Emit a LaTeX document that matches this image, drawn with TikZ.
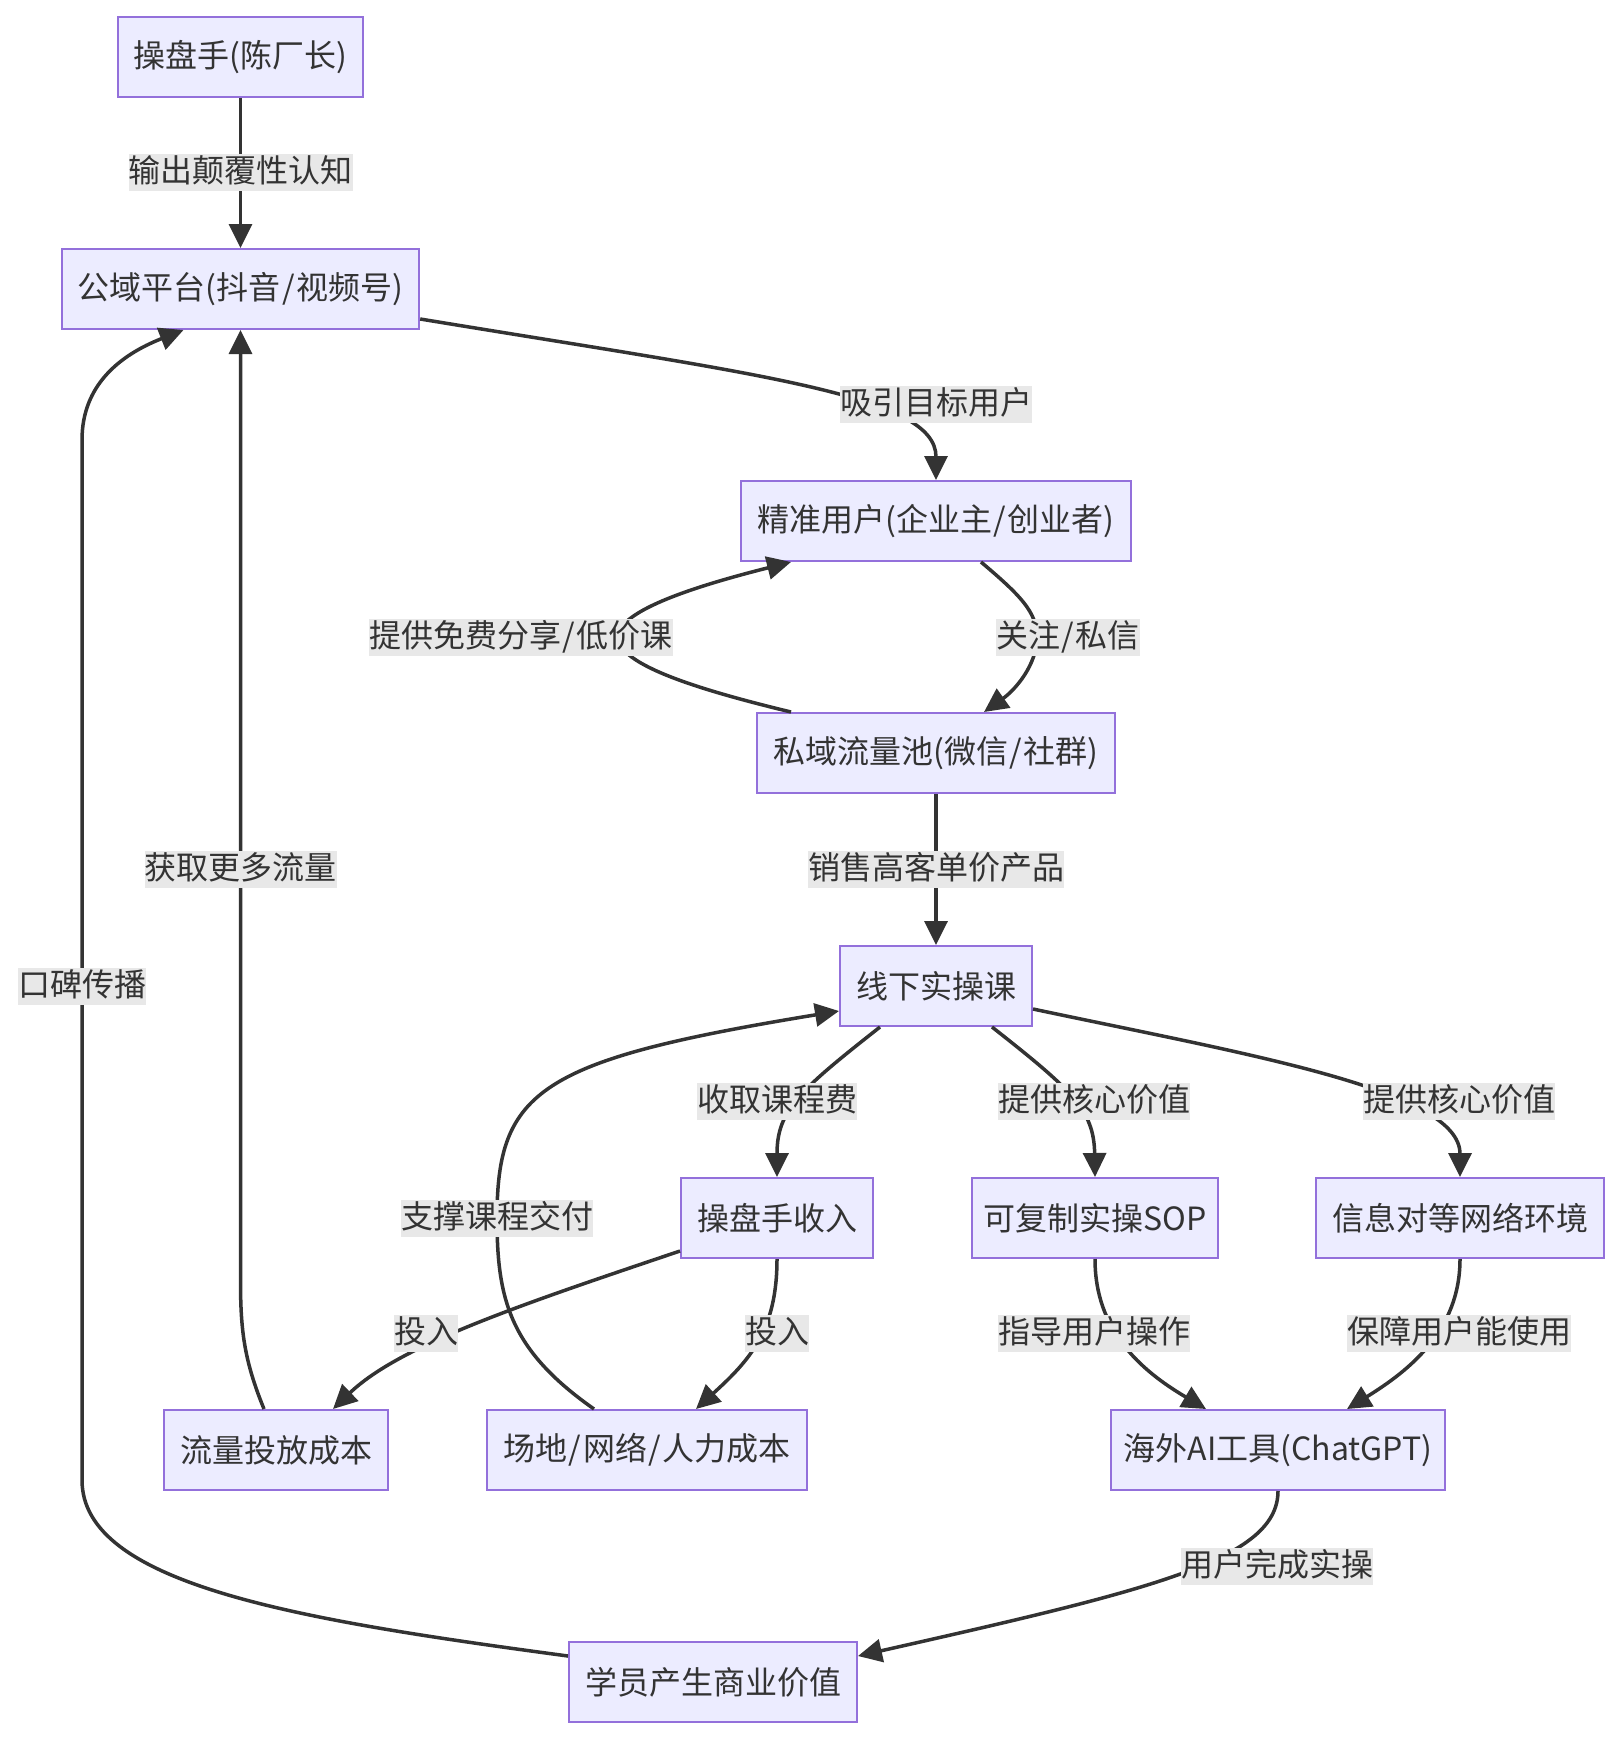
\documentclass[tikz,border=0pt]{standalone}
\usepackage{fontspec}
\setmainfont{Noto Sans CJK SC}
\usetikzlibrary{arrows.meta,calc}
\definecolor{nodefill}{HTML}{ECECFF}
\definecolor{nodeborder}{HTML}{9370DB}
\definecolor{edgecol}{HTML}{333333}
\definecolor{lblbg}{HTML}{E8E8E8}
\newcommand{\slsep}{\hspace{1.6pt}/\hspace{1.6pt}}
\begin{document}
\begin{tikzpicture}[x=1pt,y=-1pt,
  font=\fontsize{32pt}{38pt}\selectfont, text=edgecol,
  box/.style={draw=nodeborder, fill=nodefill, line width=2pt, minimum height=80pt, inner xsep=16pt, inner ysep=0pt},
  lbl/.style={fill=lblbg, inner xsep=0pt, inner ysep=0pt, text height=29pt, text depth=8pt},
  edge/.style={draw=edgecol, line width=3.5pt, -{Triangle[length=24pt,width=23pt]}}]
\useasboundingbox (0,0) rectangle (1620,1742);
% nodes
\node[box] (n1) at (240.5,57) {操盘手(陈厂长)};
\node[box] (n2) at (240.5,289) {公域平台(抖音\slsep 视频号)};
\node[box] (n3) at (936,521) {精准用户(企业主\slsep 创业者)};
\node[box] (n4) at (936,753) {私域流量池(微信\slsep 社群)};
\node[box] (n5) at (936,986) {线下实操课};
\node[box] (n6) at (777,1218) {操盘手收入};
\node[box, inner xsep=11pt] (n7) at (1095,1218) {可复制实操SOP};
\node[box] (n8) at (1460,1218) {信息对等网络环境};
\node[box] (n9) at (276,1450) {流量投放成本};
\node[box] (n10) at (647,1450) {场地\slsep 网络\slsep 人力成本};
\node[box, inner xsep=12.5pt] (n11) at (1278,1450) {海外AI工具(ChatGPT)};
\node[box] (n12) at (713,1682) {学员产生商业价值};
% edges
\draw[edge] (n1.south) -- (n2.north);
\draw[edge] ([yshift=-30pt]n2.east) .. controls (760,375) and (936,395) .. (n3.north);
\draw[edge] ([xshift=45pt]n3.south) .. controls (1020,595) and (1037,612) .. (1037,637) .. controls (1037,665) and (1015,690) .. ([xshift=48pt]n4.north);
\draw[edge] ([xshift=-145pt]n4.north) .. controls (700,690) and (618,665) .. (618,637) .. controls (618,610) and (700,585) .. ([xshift=-145pt]n3.south);
\draw[edge] (n4.south) -- (n5.north);
\draw[edge] ([xshift=-56pt]n5.south) .. controls (800,1090) and (777,1110) .. (n6.north);
\draw[edge] ([xshift=56pt]n5.south) .. controls (1072,1090) and (1094,1110) .. (n7.north);
\draw[edge] ([yshift=-23pt]n5.east) .. controls (1250,1055) and (1460,1090) .. (n8.north);
\draw[edge] ([yshift=-33pt]n6.west) .. controls (520,1305) and (400,1345) .. ([xshift=57pt]n9.north);
\draw[edge] (n6.south) .. controls (777,1330) and (750,1360) .. ([xshift=49pt]n10.north);
\draw[edge] ([xshift=-53pt]n10.north) .. controls (510,1350) and (497,1300) .. (497,1218) .. controls (497,1090) and (540,1060) .. ([yshift=-25pt]n5.west);
\draw[edge] ([xshift=-12pt]n9.north) .. controls (244,1360) and (240.5,1330) .. (240.5,1280) -- (n2.south);
\draw[edge] ([yshift=26pt]n12.west) .. controls (300,1620) and (82,1585) .. (82,1480) -- (82,440) .. controls (82,385) and (120,355) .. ([xshift=-57pt]n2.south);
\draw[edge] (n7.south) .. controls (1095,1330) and (1140,1370) .. ([xshift=-72pt]n11.north);
\draw[edge] (n8.south) .. controls (1460,1330) and (1410,1370) .. ([xshift=69pt]n11.north);
\draw[edge] (n11.south) .. controls (1278,1560) and (1150,1590) .. ([yshift=26pt]n12.east);
% labels
\node[lbl] (l1) at (240.5,172) {输出颠覆性认知};
\node[lbl] (l2) at (936,404) {吸引目标用户};
\node[lbl] (l3) at (521,637) {提供免费分享\slsep 低价课};
\node[lbl] (l4) at (1068,637) {关注\slsep 私信};
\node[lbl] (l5) at (936,869) {销售高客单价产品};
\node[lbl] (l6) at (240.5,869) {获取更多流量};
\node[lbl] (l7) at (82,986) {口碑传播};
\node[lbl] (l8) at (777,1101) {收取课程费};
\node[lbl] (l9) at (1094,1101) {提供核心价值};
\node[lbl] (l10) at (1459,1101) {提供核心价值};
\node[lbl] (l11) at (497,1218) {支撑课程交付};
\node[lbl] (l12) at (426,1333) {投入};
\node[lbl] (l13) at (777,1333) {投入};
\node[lbl] (l14) at (1094,1333) {指导用户操作};
\node[lbl] (l15) at (1459,1333) {保障用户能使用};
\node[lbl] (l16) at (1277,1566) {用户完成实操};
\end{tikzpicture}
\end{document}
